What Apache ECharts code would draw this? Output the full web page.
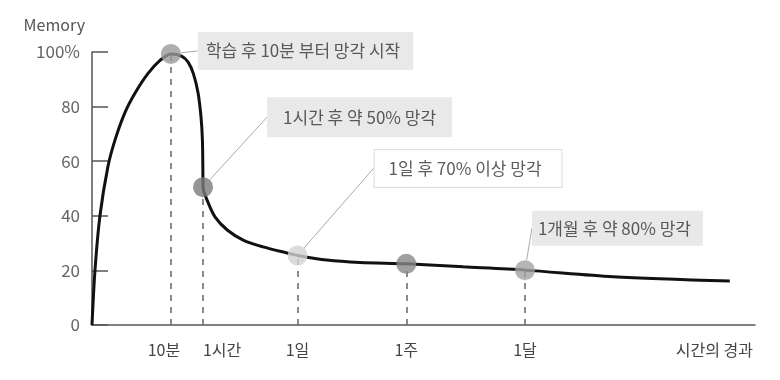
<!DOCTYPE html>
<html>
<head>
<meta charset="utf-8">
<script src="https://cdn.jsdelivr.net/npm/echarts@6/dist/echarts.min.js"></script>
<style>
  html, body { margin: 0; padding: 0; background: #fff; }
  #chart { width: 780px; height: 380px; }
</style>
</head>
<body>
<div id="chart"></div>
<script>
// ---- data ----
const curveX = [0, 0.45, 1.2, 2.4, 3.5, 5.0, 6.5, 8.4, 10.3, 11.9, 13.5, 14.5, 15.3, 16.0, 16.45, 16.65, 16.72, 16.75, 17.35, 18.55, 20.4, 22.8, 25.8, 29.4, 31.0, 35.4, 40.4, 47.4, 56.0, 65.3, 78.6, 96.2];
const curveY = [0, 20, 40, 58, 68, 78, 85, 92, 97, 99.3, 98.5, 96.3, 92, 85, 76, 68, 58, 50.5, 45.8, 39.6, 34.8, 31.1, 28.6, 26.4, 25.5, 23.8, 22.9, 22.4, 21.3, 20.1, 17.7, 16.1];
const keyLabels = ['10분', '1시간', '1일', '1주', '1달'];
const keyX = [11.9, 16.75, 31.0, 47.4, 65.3];
const keyY = [99.3, 50.5, 25.5, 22.4, 20.1];
const notes = ['학습 후 10분 부터 망각 시작', '1시간 후 약 50% 망각', '1일 후 70% 이상 망각', '', '1개월 후 약 80% 망각'];
const xAxisName = '시간의 경과';
const yAxisName = 'Memory';

// ---- styles / layout (not data) ----
const markerColors = ['#9a9a9a', '#7a7a7a', '#d2d2d2', '#878787', '#a3a3a3'];
const noteOffsets = [[27, -3], [64, -70], [77, -87], null, [7, -42]];
const notePadding = [[11, 13, 10, 8], [12, 16, 11, 16], [10, 20, 10, 14], null, [9, 12, 9, 6]];
const FONT = '"Noto Sans CJK KR", "Noto Sans", sans-serif';

const chart = echarts.init(document.getElementById('chart'), null, { renderer: 'canvas' });

const curveData = curveX.map((x, i) => [x, curveY[i]]);
const keyData = keyX.map((x, i) => {
  const has = notes[i] !== '';
  const item = {
    value: [x, keyY[i]],
    itemStyle: { color: markerColors[i] },
    label: { show: has },
    labelLine: { show: has }
  };
  if (has) item.label.padding = notePadding[i];
  if (i === 2) {
    item.label.backgroundColor = '#ffffff';
    item.label.borderColor = '#d8d8d8';
    item.label.borderWidth = 1;
  }
  return item;
});
const dashData = keyX.map((x, i) => [{ coord: [x, 0] }, { coord: [x, keyY[i]] }]);

chart.setOption({
  animation: false,
  backgroundColor: '#ffffff',
  textStyle: { fontFamily: FONT },
  grid: { left: 92, right: 25, top: 52, bottom: 55, containLabel: false },
  xAxis: {
    type: 'value',
    min: 0,
    max: 100,
    name: xAxisName,
    nameLocation: 'end',
    nameGap: -2,
    nameTextStyle: { fontFamily: FONT, fontSize: 16, color: '#444', align: 'right', verticalAlign: 'top', padding: [17, 0, 0, 0] },
    axisLine: { show: true, lineStyle: { color: '#555', width: 1.5 } },
    axisTick: { show: false },
    splitLine: { show: false },
    axisLabel: {
      customValues: keyX,
      margin: 17,
      fontFamily: FONT,
      fontSize: 16,
      color: '#444',
      formatter: function (v) {
        const i = keyX.indexOf(v);
        if (i < 0) return '';
        if (i === 0) return '{l|' + keyLabels[i] + '}';
        if (i === 1) return '{s|' + keyLabels[i] + '}';
        return keyLabels[i];
      },
      rich: {
        s: { padding: [0, 0, 0, 38], fontFamily: FONT, fontSize: 16, color: '#444' },
        l: { padding: [0, 14, 0, 0], fontFamily: FONT, fontSize: 16, color: '#444' }
      }
    }
  },
  yAxis: {
    type: 'value',
    min: 0,
    max: 100,
    interval: 20,
    name: yAxisName,
    nameLocation: 'end',
    nameGap: 27,
    nameTextStyle: { fontFamily: FONT, fontSize: 16, color: '#555', align: 'right', verticalAlign: 'middle', padding: [0, 7, 0, 0] },
    axisLine: { show: true, lineStyle: { color: '#555', width: 1.5 } },
    axisTick: { show: true, inside: true, length: 16, lineStyle: { color: '#555', width: 1.5 } },
    splitLine: { show: false },
    axisLabel: {
      margin: 12,
      fontFamily: FONT,
      fontSize: 17,
      color: '#666',
      formatter: function (v) { return v === 100 ? v + '%' : String(v); }
    }
  },
  series: [
    {
      type: 'line',
      data: curveData,
      smooth: 0.3,
      symbol: 'none',
      lineStyle: { color: '#111', width: 3 },
      z: 3,
      markLine: {
        silent: true,
        symbol: ['none', 'none'],
        label: { show: false },
        lineStyle: { color: '#666', width: 1.5, type: [6, 6] },
        data: dashData,
        z: 1
      }
    },
    {
      type: 'scatter',
      data: keyData,
      symbolSize: 20,
      z: 5,
      label: {
        show: true,
        formatter: function (p) { return notes[p.dataIndex]; },
        fontFamily: FONT,
        fontSize: 17,
        color: '#333',
        backgroundColor: '#e3e3e3'
      },
      labelLine: { show: true, lineStyle: { color: '#aaaaaa', width: 1 } },
      labelLayout: function (p) {
        const o = noteOffsets[p.dataIndex];
        if (!o) return {};
        return {
          x: p.rect.x + p.rect.width / 2 + o[0],
          y: p.rect.y + p.rect.height / 2 + o[1],
          align: 'left',
          verticalAlign: 'middle'
        };
      }
    }
  ]
});
</script>
</body>
</html>
